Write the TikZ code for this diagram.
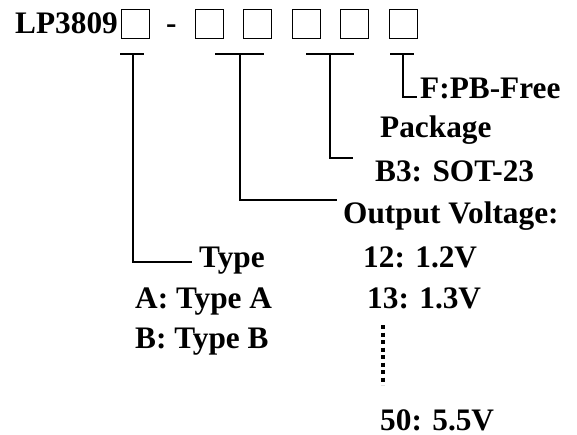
\documentclass[tikz,border=0pt]{standalone}
\usepackage{fontspec}
\setmainfont{Liberation Serif}
\usetikzlibrary{positioning}

\begin{document}
\begin{tikzpicture}[x=1pt, y=-1pt,
    lbl/.style={anchor=base west, inner sep=0pt, font=\fontsize{31.3}{36}\selectfont\bfseries},
    tee/.style={line width=1.3pt}]
    \useasboundingbox (0,0) rectangle (577,434);
    % part number
    \node[lbl] (part) at (15,33) {LP3809};
    \node[lbl] (dash) at (166,33) {-};
    \foreach \n/\x in {b0/121, b1/195, b2/243, b3/292, b4/340, b5/389} {
        \node[draw, line width=1.4pt, minimum width=28pt, minimum height=29pt, inner sep=0pt, anchor=north west] (\n) at (\x,9) {};
    }
    % tee bars
    \foreach \n/\a/\m/\b in {t0/120/133/144, t1/215/240/264, t2/306/330/354, t3/390/403/414} {
        \coordinate (\n l) at (\a,54);
        \coordinate (\n r) at (\b,54);
        \coordinate (\n) at (\m,54);
        \draw[tee] (\n l) -- (\n r);
    }
    \coordinate (e0) at (192,262);
    \coordinate (e1) at (337,200);
    \coordinate (e2) at (353,158);
    \coordinate (e3) at (417,97);
    \draw[tee] (t0) |- (e0);
    \draw[tee] (t1) |- (e1);
    \draw[tee] (t2) |- (e2);
    \draw[tee] (t3) |- (e3);
    % labels
    \node[lbl] (free) at (420,98) {F:PB-Free};
    \node[lbl] (pkg) at (380,137) {Package};
    \node[lbl] (sot) at (375,181) {B3: SOT-23};
    \node[lbl] (vout) at (343,223) {Output Voltage:};
    \node[lbl] (type) at (199,267) {Type};
    \node[lbl] (v12) at (363,267) {12: 1.2V};
    \node[lbl] (typea) at (135,308) {A: Type A};
    \node[lbl] (v13) at (367,308) {13: 1.3V};
    \node[lbl] (typeb) at (135,348) {B: Type B};
    \node[lbl, text depth=0pt] (v50) at (380,430) {50: 5.5V};
    % dots
    \coordinate (d0) at (383,325);
    \coordinate (d1) at (383,385);
    \draw[line width=4pt, dash pattern=on 4pt off 3.5pt] (d0) -- (d1);
\end{tikzpicture}
\end{document}
